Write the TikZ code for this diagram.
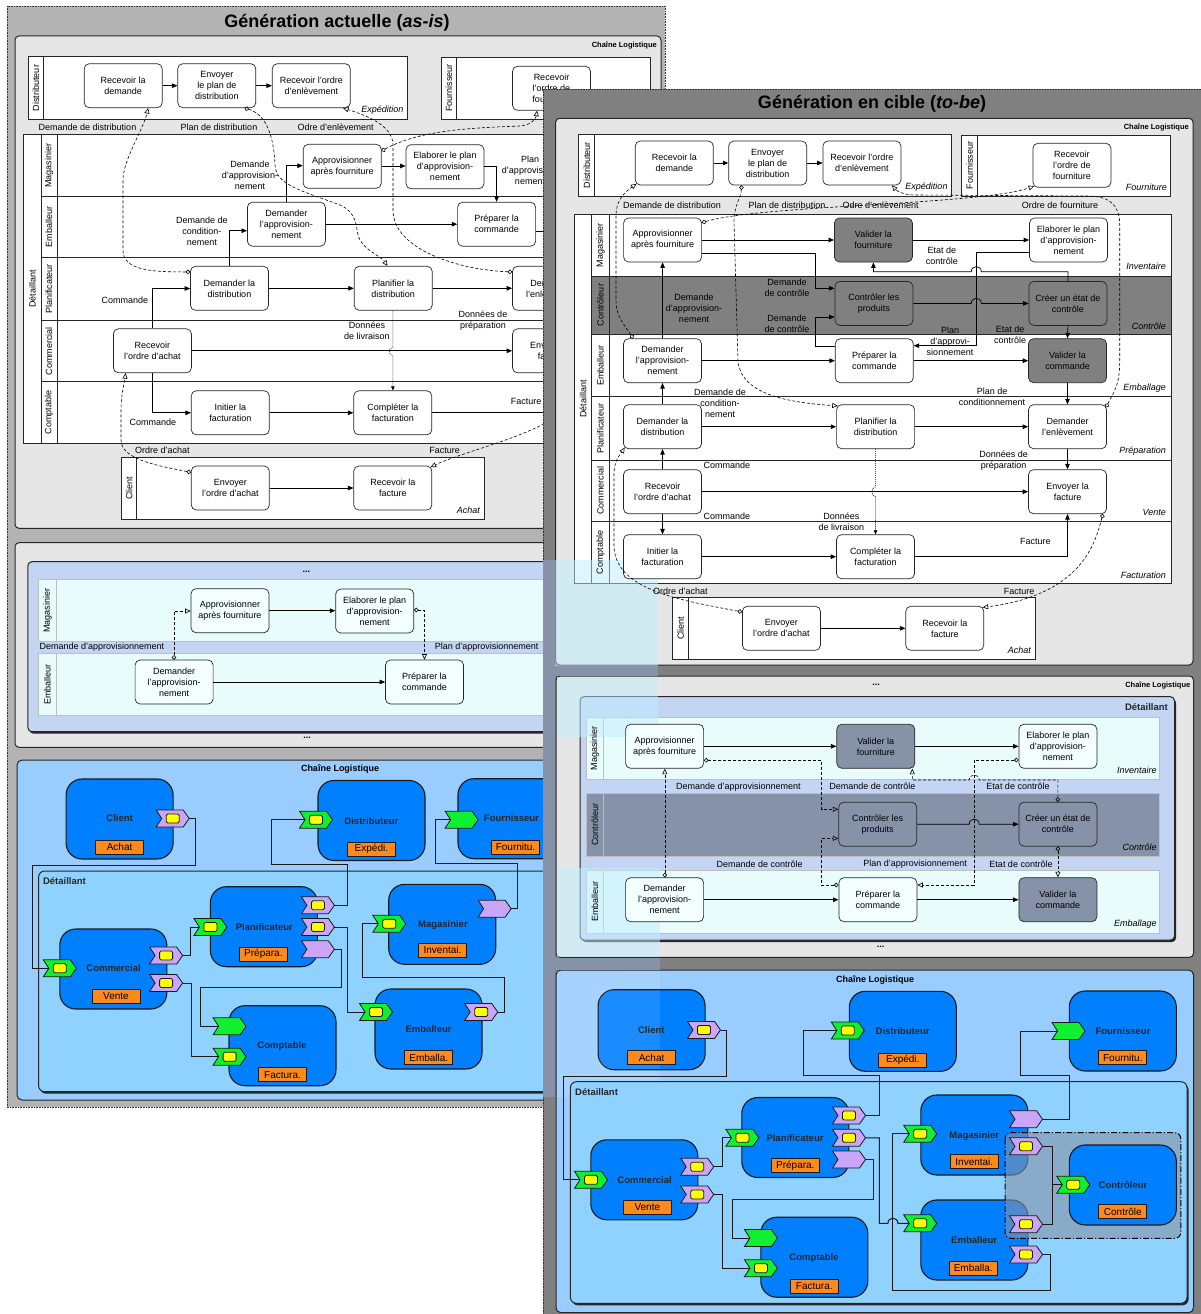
\documentclass[tikz,border=0pt]{standalone}
\usepackage{fontspec}
\setmainfont{Liberation Sans}
\usetikzlibrary{arrows.meta}
\definecolor{outerL}{HTML}{B3B3B3}
\definecolor{outerR}{HTML}{808080}
\definecolor{lgray}{HTML}{E6E6E6}
\definecolor{dkbox}{HTML}{808080}
\definecolor{slate}{HTML}{8592A8}
\definecolor{bluebox}{HTML}{C3D5F2}
\definecolor{cyanlane}{HTML}{E8FCFC}
\definecolor{panelblue}{HTML}{99CCFF}
\definecolor{detblue}{HTML}{8FD2FF}
\definecolor{compblue}{HTML}{0080FF}
\definecolor{tagor}{HTML}{FF8A1C}
\definecolor{pgreen}{HTML}{10F030}
\definecolor{ppurple}{HTML}{C9A6F7}
\definecolor{pyellow}{HTML}{FFFF00}
\definecolor{tintblue}{HTML}{C0EEFF}
\newcommand\fnine{\fontsize{9}{11}\selectfont}
\newcommand\myport[5]{%
  \draw[portst,fill=#3] (#1-16.5,#2-8.5) -- (#1+10.5,#2-8.5) -- (#1+16.5,#2) -- (#1+10.5,#2+8.5) -- (#1-16.5,#2+8.5) -- (#1-11,#2) -- cycle;%
  \ifnum#4=1 \draw[portst,fill=pyellow,rounded corners=1.5pt] (#1-6.5,#2-4.5) rectangle (#1+6.5,#2+4.5);\fi
  \coordinate (#5W) at (#1-11,#2);%
  \coordinate (#5E) at (#1+16.5,#2);%
}
\begin{document}
\begin{tikzpicture}[x=1pt,y=-1pt,
  task/.style={draw=black!85, line width=0.7pt, rounded corners=5pt, fill=white, minimum width=78pt, minimum height=44pt, align=center, inner sep=1pt, font=\fnine},
  dtask/.style={task, fill=dkbox},
  stask/.style={task, fill=slate},
  ctask/.style={task, fill=white!50!cyanlane},
  lbl/.style={align=center, inner sep=0pt, font=\fnine},
  lanelbl/.style={rotate=90, inner sep=0pt, font=\fnine},
  itl/.style={anchor=east, inner sep=0pt, font=\fnine\itshape},
  bt/.style={font=\bfseries\fontsize{7.5}{9}\selectfont, inner sep=0pt},
  bt9/.style={font=\bfseries\fontsize{9}{11}\selectfont, inner sep=0pt},
  ttl/.style={font=\bfseries\fontsize{18}{21}\selectfont, inner sep=0pt},
  dots/.style={font=\bfseries\fnine, inner sep=0pt},
  pool/.style={draw=black!85, line width=0.7pt, fill=white},
  lane/.style={draw=black!85, line width=0.7pt},
  laneC/.style={draw=gray!50, line width=0.5pt, fill=cyanlane},
  laneS/.style={draw=gray!50, line width=0.5pt, fill=slate},
  panel/.style={draw=black!85, line width=1pt, fill=lgray, rounded corners=4pt},
  panelB/.style={draw=black!85, line width=1pt, fill=panelblue, rounded corners=5pt},
  bbox/.style={draw=black!85, line width=1pt, fill=bluebox, rounded corners=4pt},
  detbox/.style={draw=black!85, line width=1pt, fill=detblue, rounded corners=6pt},
  flow/.style={line width=0.7pt, arrows={-Triangle[length=5.5pt,width=4.5pt]}},
  msg/.style={line width=0.6pt, dash pattern=on 3pt off 2pt, arrows={Circle[open,length=4.5pt,width=4.5pt]-Triangle[open,length=5.5pt,width=5pt]}},
  dotflow/.style={line width=0.6pt, dash pattern=on 1pt off 1pt, arrows={-Triangle[length=4pt,width=3.5pt]}},
  conn/.style={line width=1pt, draw=black!90},
  comp/.style={draw=black!90, line width=1.1pt, rounded corners=16pt, fill=compblue, minimum width=107pt, minimum height=80pt, inner sep=0pt},
  clbl/.style={font=\bfseries\fontsize{9.5}{11}\selectfont, inner sep=0pt, text=black!85},
  tagn/.style={draw=black!90, line width=0.8pt, fill=tagor, minimum width=48pt, minimum height=14pt, inner sep=0pt, font=\fontsize{10}{12}\selectfont},
  portst/.style={draw=black!90, line width=0.8pt},
  dotb/.style={draw=gray!40!black, densely dotted, line width=0.6pt},
  tint/.style={fill=tintblue, fill opacity=0.5}
]
\useasboundingbox (0,0) rectangle (1201,1314);

%%%%%%%%%%%%%%%% LEFT PANEL (as-is)
\fill[outerL] (7,6) rectangle (665,1107);
\draw[dotb] (7,6) rectangle (665,1107);

% ---- panel 1
\draw[panel] (15,36) rectangle (661,528.3);
\node[ttl] (tL) at (337,23) {Génération actuelle (\textit{as-is})};
\node[bt,anchor=east] (chL) at (657,45) {Chaîne Logistique};
\draw[pool] (28,56.7) rectangle (407,119);
\draw[lane] (43.6,56.7) -- (43.6,119);
\node[lanelbl] (lL1) at (35.8,88) {Distributeur};
\node[task] (Lrecdem) at (123.2,85.7) {Recevoir la\\demande};
\node[task] (Lenvplan) at (216.8,85.7) {Envoyer\\le plan de\\distribution};
\node[task] (Lrecord) at (311.3,85.7) {Recevoir l'ordre\\d'enlèvement};
\node[itl] (iL1) at (403.6,110) {Expédition};
\draw[pool] (441.7,57.3) rectangle (650,119);
\draw[lane] (456,57.3) -- (456,119);
\node[lanelbl] (lL2) at (448.8,88.2) {Fournisseur};
\node[task] (Lrecfour) at (551.5,88.3) {Recevoir\\l'ordre de\\fourniture};
\node[lbl] (aL1) at (87.5,127.3) {Demande de distribution};
\node[lbl] (aL2) at (219,127.3) {Plan de distribution};
\node[lbl] (aL3) at (335.7,127.3) {Odre d'enlèvement};

\draw[pool] (23.6,134.3) rectangle (650,443.3);
\draw[lane] (41,134.3) -- (41,443.3);
\draw[lane] (57,134.3) -- (57,443.3);
\foreach \yy in {196.7,257.7,320.7,381.7} {\draw[lane] (41,\yy) -- (650,\yy);}
\node[lanelbl] (lL3) at (32.3,288.8) {Détaillant};
\node[lanelbl] (lL4) at (49,165.5) {Magasinier};
\node[lanelbl] (lL5) at (49,227.2) {Emballeur};
\node[lanelbl] (lL6) at (49,289.2) {Planificateur};
\node[lanelbl] (lL7) at (49,351.2) {Commercial};
\node[lanelbl] (lL8) at (49,412.5) {Comptable};
\node[task] (Lappro) at (342.2,166.3) {Approvisionner\\après fourniture};
\node[task] (Lelab) at (445,166.7) {Elaborer le plan\\d'approvision-\\nement};
\node[task] (Ldemappro) at (286.4,224.2) {Demander\\l'approvision-\\nement};
\node[task] (Lprep) at (496.6,224.2) {Préparer la\\commande};
\node[task] (Ldemdist) at (229.5,288.3) {Demander la\\distribution};
\node[task] (Lplanif) at (393.2,288.3) {Planifier la\\distribution};
\node[task] (Ldemenl) at (551.5,288.3) {Demander\\l'enlèvement};
\node[task] (Lrecach) at (152.4,350.8) {Recevoir\\l'ordre d'achat};
\node[task] (Lenvfac) at (551.5,350.8) {Envoyer la\\facture};
\node[task] (Linit) at (230.3,412.8) {Initier la\\facturation};
\node[task] (Lcompl) at (392.8,412.8) {Compléter la\\facturation};

\draw[pool] (121.4,457.3) rectangle (484,519.3);
\draw[lane] (136.8,457.3) -- (136.8,519.3);
\node[lanelbl] (lL9) at (129.1,488.3) {Client};
\node[task] (Lenvach) at (230.3,488) {Envoyer\\l'ordre d'achat};
\node[task] (Lrecfac) at (392.8,488) {Recevoir la\\facture};
\node[itl] (iL2) at (480,510) {Achat};

\draw[flow] (Lrecdem) -- (Lenvplan);
\draw[flow] (Lenvplan) -- (Lrecord);
\draw[flow] (Lappro.east |- 0,166) -- (Lelab.west |- 0,166);
\draw[flow] (Lelab.east |- 0,166) -| (Lprep.north);
\draw[flow] (Ldemappro.north) |- (Lappro.west |- 0,165.7);
\draw[flow] (Ldemappro.east) -- (Lprep.west);
\draw[flow] (Ldemdist.north) |- (Ldemappro.west |- 0,230.7);
\draw[flow] (Ldemdist.east) -- (Lplanif.west);
\draw[flow] (Lplanif.east) -- (Ldemenl.west);
\draw[flow] (Lrecach.north) |- (Ldemdist.west |- 0,288.5);
\draw[flow] (Lrecach.east) -- (Lenvfac.west);
\draw[flow] (Lrecach.south) |- (Linit.west);
\draw[flow] (Linit.east) -- (Lcompl.west);
\draw[flow] (Lcompl.east) -| (Lenvfac.south);
\draw[flow] (Lprep.east |- 0,231.7) -| (Ldemenl.north);
\draw[flow] (Ldemenl.south) -- (Lenvfac.north);
\draw[flow] (Lenvach.east) -- (Lrecfac.west);
\draw[dotflow] (392.9,0 |- Lplanif.south) -- (392.9,347) .. controls (388,348.5) and (388,354.5) .. (392.9,356) -- (392.9,0 |- Lcompl.north);

\draw[msg] ([yshift=-6pt]Ldemdist.north west) .. controls (150,272) and (123,270) .. (123,250) -- (123,180) .. controls (123,160) and (143,130) .. (148.2,0 |- Lrecdem.south);
\draw[msg] (244.6,0 |- Lenvplan.south) .. controls (268,115) and (274,140) .. (275,165) .. controls (276,185) and (300,190) .. (340,205) .. controls (356,212) and (356,225) .. (358,235) .. controls (362,250) and (380,255) .. (387.5,0 |- Lplanif.north);
\draw[msg] ([yshift=-6pt]Ldemenl.north west) .. controls (460,270) and (393,250) .. (393,210) -- (393,145) .. controls (393,125) and (365,115) .. (343,0 |- Lrecord.south);
\draw[msg] ([yshift=-7pt]Lappro.north east) .. controls (420,130) and (470,128) .. (520,126) .. controls (532,125) and (536,118) .. (537,0 |- Lrecfour.south);
\draw[msg] ([xshift=-4pt]Lenvfac.south east) .. controls (582,410) and (540,428) .. (500,442) .. controls (470,452) and (445,460) .. ([xshift=-1.5pt,yshift=-1.5pt]Lrecfac.north east);
\draw[msg] ([yshift=-6.7pt]Lenvach.north west) .. controls (160,466) and (121,460) .. (121,440) -- (121,410) .. controls (121,395) and (124,385) .. (125.7,0 |- Lrecach.south);

\node[lbl] (bL1) at (250,175.3) {Demande\\d'approvision-\\nement};
\node[lbl] (bL2) at (201.8,231.3) {Demande de\\condition-\\nement};
\node[lbl] (bL3) at (530,170.5) {Plan\\d'approvision-\\nement};
\node[lbl] (bL4) at (125,300) {Commande};
\node[lbl] (bL5) at (367,331.2) {Données\\de livraison};
\node[lbl] (bL6) at (483,320.3) {Données de\\préparation};
\node[lbl] (bL7) at (152.8,422.7) {Commande};
\node[lbl] (bL8) at (526,401.7) {Facture};
\node[lbl] (bL9) at (162.5,450.7) {Ordre d'achat};
\node[lbl] (bL10) at (444.6,450.7) {Facture};

% ---- panel 2
\draw[panel] (15,542.7) rectangle (661,747.3);
\fill[black!85, rounded corners=4pt] (29.4,563.7) rectangle (656.5,733.7);
\draw[bbox] (27.9,561.7) rectangle (655,731.7);
\node[dots] (dL1) at (306.4,572.3) {...};
\node[dots] (dL2) at (307,738.3) {...};
\draw[laneC] (38.6,579.3) rectangle (650,641.7);
\draw[laneC] (56.4,579.3) -- (56.4,641.7);
\draw[laneC] (38.6,653.3) rectangle (650,715.7);
\draw[laneC] (56.4,653.3) -- (56.4,715.7);
\node[lanelbl] (lM1) at (47.5,610.5) {Magasinier};
\node[lanelbl] (lM2) at (47.5,684.5) {Emballeur};
\node[lbl] (cM1) at (101.8,647) {Demande d'approvisionnement};
\node[lbl] (cM2) at (486.6,647) {Plan d'approvisionnement};
\node[ctask] (Mappro) at (230,610.7) {Approvisionner\\après fourniture};
\node[ctask] (Melab) at (374.7,611) {Elaborer le plan\\d'approvision-\\nement};
\node[ctask] (Mdemappro) at (174.1,682) {Demander\\l'approvision-\\nement};
\node[ctask] (Mprep) at (424.5,682) {Préparer la\\commande};
\draw[flow] (Mappro.east) -- (Melab.west |- Mappro.east);
\draw[flow] (Mdemappro.east) -- (Mprep.west);
\draw[msg] (174,0 |- Mdemappro.north) -- (174,611) -- (Mappro.west |- 0,611);
\draw[msg] (Melab.east |- 0,610) -| (Mprep.north);

% ---- panel 3
\draw[panelB] (17,760) rectangle (661,1100);
\node[bt9] (chL3) at (340,769) {Chaîne Logistique};
\fill[black!85, rounded corners=6pt] (40,873) rectangle (656.5,1093.7);
\draw[detbox] (38.6,871) rectangle (655,1091.7);
\node[clbl,anchor=west] (dtL) at (42.9,881) {Détaillant};
\node[comp] (LBclient) at (119.6,819) {};
\node[comp] (LBdistr) at (371.5,820.5) {};
\node[comp] (LBfourn) at (511.5,818.7) {};
\node[comp] (LBplanif) at (263.9,926.7) {};
\node[comp] (LBmag) at (442.2,924.3) {};
\node[comp] (LBcomm) at (113.3,969) {};
\node[comp] (LBcompt) at (282.5,1045.7) {};
\node[comp] (LBemb) at (428.5,1029) {};
\node[clbl] (kL1) at (119.6,818.3) {Client};
\node[clbl] (kL2) at (371.4,821) {Distributeur};
\node[clbl] (kL3) at (511.4,818.3) {Fournisseur};
\node[clbl] (kL4) at (264.3,927.3) {Planificateur};
\node[clbl] (kL5) at (442.9,925) {Magasinier};
\node[clbl] (kL6) at (113.6,968.3) {Commercial};
\node[clbl] (kL7) at (282,1046) {Comptable};
\node[clbl] (kL8) at (428.6,1029) {Emballeur};
\node[tagn] (gL1) at (119.6,847) {Achat};
\node[tagn] (gL2) at (371.4,849.2) {Expédi.};
\node[tagn] (gL3) at (515.5,847) {Fournitu.};
\node[tagn] (gL4) at (263.4,954) {Prépara.};
\node[tagn] (gL5) at (442.5,950.3) {Inventai.};
\node[tagn] (gL6) at (116,996.3) {Vente};
\node[tagn] (gL7) at (282.5,1074.7) {Factura.};
\node[tagn] (gL8) at (428.8,1057.5) {Emballa.};
\myport{172.7}{818.5}{ppurple}{1}{L1}
\myport{316}{819.7}{pgreen}{1}{L2}
\myport{461.6}{819.7}{pgreen}{0}{L3}
\myport{317.9}{905.3}{ppurple}{1}{L4}
\myport{317.9}{927}{ppurple}{1}{L5}
\myport{317.9}{949.3}{ppurple}{0}{L6}
\myport{210.4}{927}{pgreen}{1}{L7}
\myport{389.3}{923.8}{pgreen}{1}{L8}
\myport{494.6}{908.7}{ppurple}{0}{L9}
\myport{59.8}{968.3}{pgreen}{1}{L10}
\myport{166.1}{955.5}{ppurple}{1}{L11}
\myport{166.1}{983}{ppurple}{1}{L12}
\myport{229.6}{1026.3}{pgreen}{0}{L13}
\myport{229.6}{1056.7}{pgreen}{1}{L14}
\myport{376}{1012}{pgreen}{1}{L15}
\myport{481.2}{1012}{ppurple}{1}{L16}
\draw[conn] (L1E) -| (195.7,865) -| (32.1,968.3) -- (L10W);
\draw[conn] (L4E) -| (347.5,864.3) -| (271.4,819.7) -- (L2W);
\draw[conn] (L9E) -| (517.9,863.3) -| (435,819.7) -- (L3W);
\draw[conn] (L11E) -| (190,927) -- (L7W);
\draw[conn] (L12E) -| (191.8,1056.7) -- (L14W);
\draw[conn] (L5E) -| (347.5,1012) -- (L15W);
\draw[conn] (L6E) -| (341,987.3) -| (200.7,1026.3) -- (L13W);
\draw[conn] (L16E) -| (504.6,977.7) -| (362.5,923.8) -- (L8W);

%%%%%%%%%%%%%%%% RIGHT PANEL (to-be)
\fill[outerR] (543,89.3) rectangle (1210,1320);
\draw[dotb] (543,1320) -- (543,89.3) -- (1210,89.3);
\node[ttl] (tR) at (872,104) {Génération en cible (\textit{to-be})};

% ---- panel 1
\draw[panel] (555.6,118.3) rectangle (1193,665);
\node[bt,anchor=east] (chR) at (1189,127.7) {Chaîne Logistique};
\draw[pool] (578.8,134.3) rectangle (951,196);
\draw[lane] (594.8,134.3) -- (594.8,196);
\node[lanelbl] (lR1) at (586.8,165.2) {Distributeur};
\node[task] (Rrecdem) at (674.3,163) {Recevoir la\\demande};
\node[task] (Renvplan) at (767.7,163) {Envoyer\\le plan de\\distribution};
\node[task] (Rrecord) at (861.9,163) {Recevoir l'ordre\\d'enlèvement};
\node[itl] (iR1) at (947.7,187.3) {Expédition};
\draw[pool] (961.6,135) rectangle (1170.3,196);
\draw[lane] (977.6,135) -- (977.6,196);
\node[lanelbl] (lR2) at (969.6,165.5) {Fournisseur};
\node[task] (Rrecfour) at (1071.9,165.3) {Recevoir\\l'ordre de\\fourniture};
\node[itl] (iR2) at (1167,187.3) {Fourniture};
\node[lbl] (aR1) at (672,205) {Demande de distribution};
\node[lbl] (aR2) at (787,205) {Plan de distribution};
\node[lbl] (aR3) at (880.6,205) {Odre d'enlèvement};
\node[lbl] (aR4) at (1060,205) {Ordre de fourniture};

\draw[pool] (574.6,214.3) rectangle (1171,583.3);
\fill[dkbox] (591.4,276) rectangle (1171,334);
\draw[lane] (591.4,214.3) -- (591.4,583.3);
\draw[lane] (609.6,214.3) -- (609.6,583.3);
\foreach \yy in {276,334,396.7,460,521.7} {\draw[lane] (591.4,\yy) -- (1171,\yy);}
\fill[tint] (555,560) rectangle (658.3,666);
\node[lanelbl] (lR3) at (583,398.8) {Détaillant};
\node[lanelbl] (lR4) at (600.5,245.2) {Magasinier};
\node[lanelbl] (lR5) at (600.5,305) {Contrôleur};
\node[lanelbl] (lR6) at (600.5,365.3) {Emballeur};
\node[lanelbl] (lR7) at (600.5,428.3) {Planificateur};
\node[lanelbl] (lR8) at (600.5,490.8) {Commercial};
\node[lanelbl] (lR9) at (600.5,552.5) {Comptable};
\node[itl] (iR3) at (1166,266.7) {Inventaire};
\node[itl] (iR4) at (1166,326) {Contrôle};
\node[itl] (iR5) at (1166,388.3) {Emballage};
\node[itl] (iR6) at (1166,450.7) {Préparation};
\node[itl] (iR7) at (1166,512.7) {Vente};
\node[itl] (iR8) at (1166,575) {Facturation};
\node[task] (Rappro) at (662.6,240) {Approvisionner\\après fourniture};
\node[dtask] (Rvalfour) at (873.4,240) {Valider la\\fourniture};
\node[task] (Relab) at (1068.5,240) {Elaborer le plan\\d'approvision-\\nement};
\node[dtask] (Rctrl) at (873.9,303.4) {Contrôler les\\produits};
\node[dtask] (Rcreer) at (1067.9,303.4) {Créer un état de\\contrôle};
\node[task] (Rdemappro) at (662.5,360.7) {Demander\\l'approvision-\\nement};
\node[task] (Rprep) at (874.3,360.7) {Préparer la\\commande};
\node[dtask] (Rvalcmd) at (1067.5,360.7) {Valider la\\commande};
\node[task] (Rdemdist) at (662.5,426.7) {Demander la\\distribution};
\node[task] (Rplanif) at (875.6,426.7) {Planifier la\\distribution};
\node[task] (Rdemenl) at (1067.5,426.7) {Demander\\l'enlèvement};
\node[task] (Rrecach) at (662.5,491.7) {Recevoir\\l'ordre d'achat};
\node[task] (Renvfac) at (1067.5,491.7) {Envoyer la\\facture};
\node[task] (Rinit) at (662.5,556.7) {Initier la\\facturation};
\node[task] (Rcompl) at (875.5,556.7) {Compléter la\\facturation};

\draw[pool] (672.8,597.3) rectangle (1035.4,659.3);
\draw[lane] (688.4,597.3) -- (688.4,659.3);
\node[lanelbl] (lR10) at (680.6,628.3) {Client};
\node[task] (Renvach) at (781.4,628.3) {Envoyer\\l'ordre d'achat};
\node[task] (Rrecfac) at (944.8,628.3) {Recevoir la\\facture};
\node[itl] (iR9) at (1031,650) {Achat};

\draw[flow] (Rrecdem) -- (Renvplan);
\draw[flow] (Renvplan) -- (Rrecord);
\draw[flow] (Renvach) -- (Rrecfac);
\draw[flow] (Rappro.east) -- (Rvalfour.west);
\draw[flow] (Rvalfour.east) -- (Relab.west);
\draw[flow] (Rappro.east |- 0,253) -| (815,288.3) -- (Rctrl.west |- 0,288.3);
\draw[flow] (Rprep.west |- 0,346.7) -| (815,317) -- (Rctrl.west |- 0,317);
\draw[flow] (Rctrl.east) -- (971.3,303.4) .. controls (971.3,296.6) and (981.3,296.6) .. (981.3,303.4) -- (Rcreer.west);
\draw[flow] (Rcreer.north) |- (981.3,271.7) .. controls (981.3,264.9) and (971.3,264.9) .. (971.3,271.7) -| (Rvalfour.south);
\draw[flow] (Relab.west |- 0,252.7) -| (976.3,345.7) -- (Rprep.east |- 0,345.7);
\draw[flow] (Rcreer.south) -- (Rvalcmd.north);
\draw[flow] (Rdemappro.north) -- (Rappro.south);
\draw[flow] (Rdemappro.east) -- (Rprep.west);
\draw[flow] (Rprep.east) -- (Rvalcmd.west);
\draw[flow] (Rvalcmd.south) -- (Rdemenl.north);
\draw[flow] (Rdemdist.north) -- (Rdemappro.south);
\draw[flow] (Rdemdist.east) -- (Rplanif.west);
\draw[flow] (Rplanif.east) -- (Rdemenl.west);
\draw[flow] (Rdemenl.south) -- (Renvfac.north);
\draw[flow] (Rrecach.north) -- (Rdemdist.south);
\draw[flow] (Rrecach.east) -- (Renvfac.west);
\draw[flow] (Rrecach.south) -- (Rinit.north);
\draw[flow] (Rinit.east) -- (Rcompl.west);
\draw[flow] (Rcompl.east) -| (Renvfac.south);
\draw[dotflow] (Rplanif.south) -- (875.6,486.7) .. controls (870.5,488) and (870.5,495.5) .. (875.6,496.7) -- (Rcompl.north);

\draw[msg] (633,0 |- Rdemappro.north) .. controls (625,325) and (616,318) .. (616,300) -- (616,215) .. controls (616,200) and (625,192) .. ([xshift=1.5pt,yshift=1.5pt]Rrecdem.south west);
\draw[msg] (741.5,0 |- Renvplan.south) .. controls (741,198) and (734,205) .. (734,222) -- (738,362) .. controls (742,392) and (780,402) .. ([xshift=1.5pt,yshift=-1.5pt]Rplanif.north west);
\draw[msg] ([xshift=-1pt,yshift=-3pt]Rdemenl.north east) .. controls (1115,390) and (1119.7,385) .. (1119.7,360) -- (1119.7,225) .. controls (1119.7,205) and (1110,197) .. (1090,196) -- (915,195) .. controls (902,195) and (896,190) .. (892,0 |- Rrecord.south);
\draw[msg] ([yshift=-5pt]Rappro.north east) .. controls (760,205) and (980,205) .. ([xshift=1.5pt,yshift=1.5pt]Rrecfour.south west);
\draw[msg] ([xshift=-4pt]Renvfac.south east) .. controls (1095,545) and (1080,595) .. ([xshift=-1.5pt,yshift=-1.5pt]Rrecfac.north east);
\draw[msg] ([yshift=-6pt]Renvach.north west) .. controls (680,600) and (614,590) .. (614,545) -- (614,475) .. controls (614,460) and (620,455) .. ([xshift=1.5pt,yshift=1.5pt]Rdemdist.south west);

\node[lbl] (bR1) at (941.8,256.2) {Etat de\\contrôle};
\node[lbl] (bR2) at (787,288) {Demande\\de contrôle};
\node[lbl] (bR3) at (787,324.2) {Demande\\de contrôle};
\node[lbl] (bR4) at (694,308.2) {Demande\\d'approvision-\\nement};
\node[lbl] (bR5) at (950,341) {Plan\\d'approvi-\\sionnement};
\node[lbl] (bR6) at (1010,334.5) {Etat de\\contrôle};
\node[lbl] (bR7) at (720,403) {Demande de\\condition-\\nement};
\node[lbl] (bR8) at (992,397.2) {Plan de\\conditionnement};
\node[lbl] (bR9) at (1003.7,460.5) {Données de\\préparation};
\node[lbl] (bR10) at (726.8,465.7) {Commande};
\node[lbl] (bR11) at (726.8,516.7) {Commande};
\node[lbl] (bR12) at (841.4,522.2) {Données\\de livraison};
\node[lbl] (bR13) at (1035.4,541.7) {Facture};
\node[lbl] (bR14) at (680.4,591.7) {Ordre d'achat};
\node[lbl] (bR15) at (1019,591.7) {Facture};

% ---- panel 2
\draw[panel] (556,676) rectangle (1193.5,957.3);
\node[bt,anchor=east] (chR2) at (1190.5,685) {Chaîne Logistique};
\fill[black!85, rounded corners=4pt] (581.5,698.7) rectangle (1176,942);
\draw[bbox] (580,696.7) rectangle (1174.5,940);
\draw[laneC] (586.4,717.3) rectangle (1159.7,779);
\draw[laneC] (603.2,717.3) -- (603.2,779);
\draw[laneS] (586.4,793.3) rectangle (1159.7,856);
\draw[laneS] (603.2,793.3) -- (603.2,856);
\draw[laneC] (586.4,870) rectangle (1159.7,933.3);
\draw[laneC] (603.2,870) -- (603.2,933.3);
\fill[tint] (556.5,676.5) rectangle (658.3,737);
\fill[tint] (556.5,868) rectangle (660,957);
\node[dots] (dR1) at (876,685) {...};
\node[dots] (dR2) at (880.6,947.3) {...};
\node[clbl,anchor=east] (dtR2) at (1168,706.7) {Détaillant};
\node[lanelbl] (lN1) at (594.8,748.2) {Magasinier};
\node[lanelbl] (lN2) at (594.8,824.7) {Contrôleur};
\node[lanelbl] (lN3) at (594.8,901.7) {Emballeur};
\node[itl] (iN1) at (1156.8,770) {Inventaire};
\node[itl] (iN2) at (1156.8,847.7) {Contrôle};
\node[itl] (iN3) at (1156.8,924.3) {Emballage};
\node[lbl] (cN1) at (738.4,786.7) {Demande d'approvisionnement};
\node[lbl] (cN2) at (872.4,786.7) {Demande de contrôle};
\node[lbl] (cN3) at (1018,786.7) {Etat de contrôle};
\node[lbl] (cN4) at (759.6,864) {Demande de contrôle};
\node[lbl] (cN5) at (915.2,864) {Plan d'approvisionnement};
\node[lbl] (cN6) at (1021,864) {Etat de contrôle};
\node[ctask] (RMappro) at (664.6,746.3) {Approvisionner\\après fourniture};
\node[stask] (RMvalfour) at (875.8,746.3) {Valider la\\fourniture};
\node[ctask] (RMelab) at (1057.9,746.3) {Elaborer le plan\\d'approvision-\\nement};
\node[stask] (RMctrl) at (877.7,824.2) {Contrôler les\\produits};
\node[stask] (RMcreer) at (1057.9,824.2) {Créer un état de\\contrôle};
\node[ctask] (RMdemappro) at (664.6,899.7) {Demander\\l'approvision-\\nement};
\node[ctask] (RMprep) at (877.9,899.7) {Préparer la\\commande};
\node[stask] (RMvalcmd) at (1057.9,899.7) {Valider la\\commande};
\draw[flow] (RMappro.east) -- (RMvalfour.west);
\draw[flow] (RMvalfour.east) -- (RMelab.west);
\draw[flow] (RMctrl.east) -- (969.2,824.2) .. controls (969.2,817.4) and (979.2,817.4) .. (979.2,824.2) -- (RMcreer.west);
\draw[flow] (RMdemappro.east) -- (RMprep.west);
\draw[flow] (RMprep.east) -- (RMvalcmd.west);
\draw[msg] (664.8,0 |- RMdemappro.north) -- (664.8,0 |- RMappro.south);
\draw[msg] (RMappro.east |- 0,760.3) -| (821.6,809.3) -- (RMctrl.west |- 0,809.3);
\draw[msg] (RMprep.west |- 0,885) -| (821.6,838.3) -- (RMctrl.west |- 0,838.3);
\draw[msg] (RMcreer.north) -- (1057.9,780) -- (979.2,780) .. controls (979.2,773.4) and (969.2,773.4) .. (969.2,780) -| (912.3,0 |- RMvalfour.south);
\draw[msg] (RMelab.west |- 0,760) -- (974.2,760) -- (974.2,885) -- (RMprep.east |- 0,885);
\draw[msg] (RMcreer.south) -- (RMvalcmd.north);

% ---- panel 3
\draw[panelB] (556,970) rectangle (1193.5,1312.7);
\fill[white, fill opacity=0.12] (557,971) rectangle (660,1097);
\node[bt9] (chR3) at (875.2,980) {Chaîne Logistique};
\fill[black!85, rounded corners=6pt] (571.9,1083.7) rectangle (1188.5,1305.3);
\draw[detbox] (570.4,1081.7) rectangle (1187,1303.3);
\node[clbl,anchor=west] (dtR3) at (575,1092.3) {Détaillant};
\node[comp] (RBclient) at (651.6,1029.7) {};
\fill[white, fill opacity=0.1] (598.5,990) rectangle (660,1069.3);
\node[comp] (RBdistr) at (902.8,1031.3) {};
\node[comp] (RBfourn) at (1122.8,1031) {};
\node[comp] (RBplanif) at (795.3,1137.5) {};
\node[comp] (RBmag) at (974.3,1135) {};
\node[comp] (RBcomm) at (644.3,1179.8) {};
\node[comp] (RBcompt) at (814.3,1257.2) {};
\node[comp] (RBemb) at (974.3,1240) {};
\draw[line width=1pt, dash pattern=on 6pt off 2pt on 1.2pt off 2pt, rounded corners=6pt, fill=slate, fill opacity=0.6] (1005,1132.7) rectangle (1180.8,1238.3);
\node[comp] (RBctrl) at (1122.8,1185) {};
\node[clbl] (kR1) at (651.3,1030) {Client};
\node[clbl] (kR2) at (902.6,1031) {Distributeur};
\node[clbl] (kR3) at (1123,1030.7) {Fournisseur};
\node[clbl] (kR4) at (795,1138.3) {Planificateur};
\node[clbl] (kR5) at (974.2,1135.7) {Magasinier};
\node[clbl] (kR6) at (644.6,1180) {Commercial};
\node[clbl] (kR7) at (814,1257.7) {Comptable};
\node[clbl] (kR8) at (974.2,1240) {Emballeur};
\node[clbl] (kR9) at (1123,1185) {Contrôleur};
\node[tagn] (gR1) at (651.6,1057.5) {Achat};
\node[tagn] (gR2) at (902.8,1060) {Expédi.};
\node[tagn] (gR3) at (1122.8,1057.5) {Fournitu.};
\node[tagn] (gR4) at (795.3,1165.8) {Prépara.};
\node[tagn] (gR5) at (974.3,1161.7) {Inventai.};
\node[tagn] (gR6) at (647.3,1207.5) {Vente};
\node[tagn] (gR7) at (814.3,1286.3) {Factura.};
\node[tagn] (gR8) at (973.2,1268.3) {Emballa.};
\node[tagn] (gR9) at (1122.8,1211.7) {Contrôle};
\myport{704}{1030}{ppurple}{1}{R1}
\myport{847.8}{1030.5}{pgreen}{1}{R2}
\myport{1068.5}{1031}{pgreen}{0}{R3}
\myport{849}{1115.5}{ppurple}{1}{R4}
\myport{849}{1137.8}{ppurple}{1}{R5}
\myport{849}{1159.5}{ppurple}{0}{R6}
\myport{742.4}{1137.8}{pgreen}{1}{R7}
\myport{920.2}{1133.8}{pgreen}{1}{R8}
\myport{1026}{1119.2}{ppurple}{0}{R9}
\myport{1026}{1146.3}{ppurple}{1}{R10}
\myport{591}{1179.8}{pgreen}{1}{R11}
\myport{697.2}{1166.7}{ppurple}{1}{R12}
\myport{697.2}{1194.5}{ppurple}{1}{R13}
\myport{760.9}{1238}{pgreen}{0}{R14}
\myport{760.9}{1268.2}{pgreen}{1}{R15}
\myport{920.2}{1223.3}{pgreen}{1}{R16}
\myport{1026}{1224.2}{ppurple}{1}{R17}
\myport{1026}{1254.5}{ppurple}{1}{R18}
\myport{1073.3}{1184.7}{pgreen}{1}{R19}
\draw[conn] (R1E) -| (726.8,1076) -| (563.2,1179.8) -- (R11W);
\draw[conn] (R4E) -| (879.4,1075.7) -| (803.5,1030.5) -- (R2W);
\draw[conn] (R9E) -| (1069,1075) -| (1020.6,1031) -- (R3W);
\draw[conn] (R12E) -| (722,1137.8) -- (R7W);
\draw[conn] (R13E) -| (722.5,1268.2) -- (R15W);
\draw[conn] (R5E) -| (879.4,1223.3) -- (887.9,1223.3) .. controls (887.9,1216.5) and (897.9,1216.5) .. (897.9,1223.3) -- (R16W);
\draw[conn] (R6E) -| (873,1199) -| (732.7,1238) -- (R14W);
\draw[conn] (R18E) -| (1050,1290) -| (892.9,1133.8) -- (R8W);
\draw[conn] (R10E) -| (1052.2,1184.7) -- (R19W);
\draw[conn] (R17E) -| (1052.2,1184.7);

%%%%%%%%%%%%%%%% overlap artefacts of the two windows
\fill[slate] (542.7,560) rectangle (555,1097);
\fill[slate] (555,666) rectangle (658.3,675.5);
\fill[slate] (555,958) rectangle (660,969.5);
\end{tikzpicture}
\end{document}
